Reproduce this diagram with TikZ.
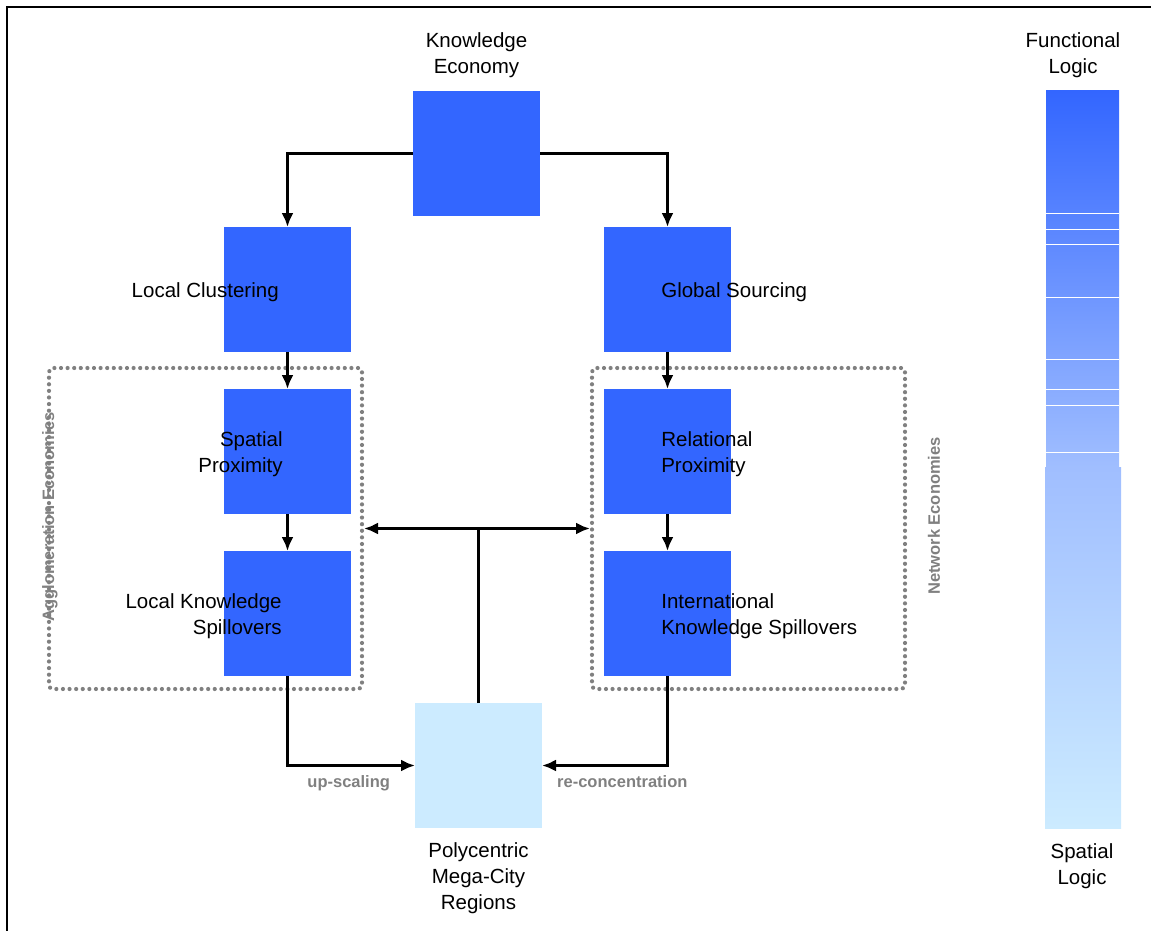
\documentclass[tikz,border=0pt]{standalone}
\usepackage{fontspec}
\setmainfont{Liberation Sans}
\usetikzlibrary{positioning}
\usetikzlibrary{arrows.meta}

\definecolor{boxblue}{HTML}{3366FF}
\definecolor{paleblue}{HTML}{CCEBFF}
\definecolor{midblue}{HTML}{A0BEFF}
\definecolor{groupgray}{HTML}{808080}

\begin{document}
\begin{tikzpicture}[
x=1pt,y=-1pt,
box/.style={
	% The shape:
	rectangle,
	% The size:
	minimum width=127pt,minimum height=125pt,inner sep=0pt,outer sep=0pt,
	% The filling:
	fill=boxblue},
txt/.style={
	font=\fontsize{20.5}{26}\selectfont,
	inner sep=0pt,text=black},
groupbox/.style={
	% The shape:
	rectangle,rounded corners=4pt,
	% The size:
	minimum width=313pt,minimum height=321pt,outer sep=0pt,
	% The border:
	draw=groupgray,line width=4.2pt,line cap=round,
	dash pattern=on 0pt off 6.6pt},
grouptxt/.style={
	font=\fontsize{16.5}{19}\selectfont\bfseries,
	text=groupgray,inner sep=0pt},
arr/.style={-{Latex[length=14pt,width=12pt]}},
line width=3.6pt,
]
\useasboundingbox (0,0) rectangle (1151,931);

% frame
\draw[line width=1.5pt] (7,931) -- (7,7) -- (1151,7);

% groups
\node[groupbox] (agglo) at (205.5,528.5) {};
\node[groupbox] (network) at (748.5,528.5) {};
\node[grouptxt,rotate=90] (agglotxt) at (50,517) {Agglomeration Economies};
\node[grouptxt,rotate=90] (networktxt) at (934,516) {Network Economies};

% boxes
\node[box] (knowledge) at (476.5,153.5) {};
\node[box] (clustering) at (287.5,289.5) {};
\node[box] (sourcing) at (667.5,289.5) {};
\node[box,below=37pt of clustering] (spatial) {};
\node[box,below=37pt of sourcing] (relational) {};
\node[box,below=37pt of spatial] (localspill) {};
\node[box,below=37pt of relational] (intlspill) {};
\node[box,fill=paleblue] (megacity) at (478.5,765.5) {};

% labels
\node[txt,align=center,above=11pt of knowledge] (knowledgetxt) {Knowledge\\Economy};
\node[txt,align=right,anchor=east] (clusteringtxt) at ([xshift=-7pt,yshift=-3pt]clustering.center) {Local Clustering};
\node[txt,align=right,anchor=east] (spatialtxt) at ([xshift=-3pt,yshift=-2.5pt]spatial.center) {Spatial\\Proximity};
\node[txt,align=right,anchor=east] (localspilltxt) at ([xshift=-4pt,yshift=-3pt]localspill.center) {Local Knowledge\\Spillovers};
\node[txt,align=left,anchor=west] (sourcingtxt) at ([xshift=-8pt,yshift=-3pt]sourcing.center) {Global Sourcing};
\node[txt,align=left,anchor=west] (relationaltxt) at ([xshift=-8pt,yshift=-2.5pt]relational.center) {Relational\\Proximity};
\node[txt,align=left,anchor=west] (intlspilltxt) at ([xshift=-8pt,yshift=-3pt]intlspill.center) {International\\Knowledge Spillovers};
\node[txt,align=center,below=13pt of megacity] (megacitytxt) {Polycentric\\Mega-City\\Regions};

% connectors
\draw[arr] (knowledge.west) -| (clustering.north);
\draw[arr] (knowledge.east) -| (sourcing.north);
\draw[arr] (clustering) -- (spatial);
\draw[arr] (spatial) -- (localspill);
\draw[arr] (sourcing) -- (relational);
\draw[arr] (relational) -- (intlspill);
\draw[arr] (localspill.south) |- node[grouptxt,pos=0.74,below=8pt] {up-scaling} (megacity.west);
\draw[arr] (intlspill.south) |- node[grouptxt,pos=0.68,below=8pt] {re-concentration} (megacity.east);
\draw[{Latex[length=14pt,width=12pt]}-{Latex[length=14pt,width=12pt]}] ([xshift=2pt]agglo.east) -- ([xshift=-2pt]network.west);
\draw (megacity.north) -- (megacity.north |- agglo.east);

% logic scale
\shade[top color=boxblue,bottom color=midblue] (1046,91) rectangle (1119,467);
\shade[top color=midblue,bottom color=paleblue] (1045,467) rectangle (1121,828);
\foreach \y in {213,229,244,297,359,389,405,452}
	\draw[white,line width=0.8pt] (1046,\y) -- (1119,\y);
\node[txt,align=center] (functionaltxt) at (1073,55) {Functional\\Logic};
\node[txt,align=center] (spatialtxt) at (1082,866) {Spatial\\Logic};
\end{tikzpicture}
\end{document}
